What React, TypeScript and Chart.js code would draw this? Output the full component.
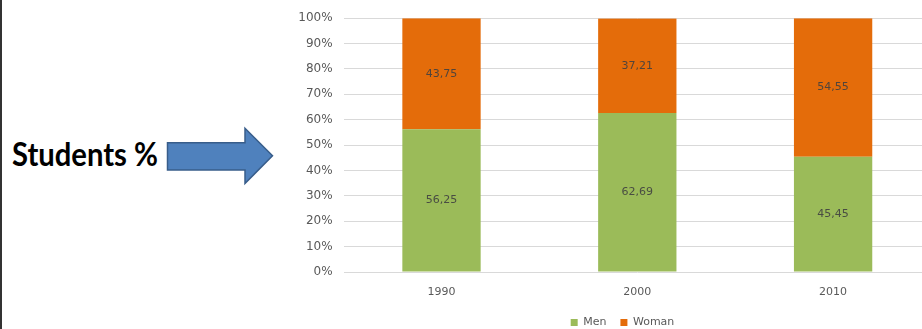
import React, { useEffect, useRef } from "react";
import { Chart, registerables } from "chart.js";

Chart.register(...registerables);

const categories = ["1990", "2000", "2010"];
const menValues = [56.25, 62.69, 45.45];
const womanValues = [43.75, 37.21, 54.55];
const seriesNames = ["Men", "Woman"];
const yMin = 0;
const yMax = 100;
const yStep = 10;
const sideLabel = "Students %";

const GREEN = "#9BBB59";
const ORANGE = "#E46C0A";
const FONT = "'DejaVu Sans', sans-serif";

const dataLabelPlugin = {
  id: "segmentLabels",
  afterDatasetsDraw(chart: any) {
    const ctx = chart.ctx;
    ctx.save();
    ctx.font = `11px ${FONT}`;
    ctx.fillStyle = "rgba(64,64,64,0.9)";
    ctx.textAlign = "center";
    ctx.textBaseline = "middle";
    chart.data.datasets.forEach((ds: any, di: number) => {
      const meta = chart.getDatasetMeta(di);
      meta.data.forEach((el: any, i: number) => {
        const v = ds.data[i];
        const txt = v.toFixed(2).replace(".", ",");
        ctx.fillText(txt, el.x, (el.y + el.base) / 2);
      });
    });
    ctx.restore();
  },
};

// shift the legend so that it sits centred where the reference has it
const legendShiftPlugin = {
  id: "legendShift",
  afterLayout(chart: any) {
    const lg = chart.legend;
    if (!lg) return;
    lg.left += 17;
    lg.right += 17;
  },
};

function StackedChart() {
  const ref = useRef<HTMLCanvasElement | null>(null);
  useEffect(() => {
    if (!ref.current) return;
    const chart = new Chart(ref.current, {
      type: "bar",
      data: {
        labels: categories,
        datasets: [
          {
            label: seriesNames[0],
            data: menValues,
            backgroundColor: GREEN,
            barPercentage: 0.4,
            categoryPercentage: 1,
          },
          {
            label: seriesNames[1],
            data: womanValues,
            backgroundColor: ORANGE,
            barPercentage: 0.4,
            categoryPercentage: 1,
          },
        ],
      },
      options: {
        animation: false,
        responsive: false,
        maintainAspectRatio: false,
        layout: { padding: { top: 17, left: 0, right: 34, bottom: 0 } },
        plugins: {
          tooltip: { enabled: false },
          legend: {
            position: "bottom",
            labels: {
              boxWidth: 7,
              boxHeight: 7,
              padding: 14,
              color: "#595959",
              font: { family: FONT, size: 11 },
            },
          },
        },
        scales: {
          x: {
            stacked: true,
            grid: { display: false, drawTicks: false },
            border: { display: false },
            ticks: {
              color: "#595959",
              font: { family: FONT, size: 11 },
              padding: 14,
            },
            afterFit: (s: any) => {
              s.height = 31;
            },
          },
          y: {
            stacked: true,
            min: yMin,
            max: yMax,
            grid: { color: "#D9D9D9", drawTicks: false, lineWidth: 1 },
            border: { display: false },
            ticks: {
              stepSize: yStep,
              color: "#595959",
              font: { family: FONT, size: 12 },
              padding: 11,
              callback: (v: any) => `${v}%`,
            },
            afterFit: (s: any) => {
              s.width = 63.6;
            },
          },
        },
      },
      plugins: [dataLabelPlugin, legendShiftPlugin],
    });
    return () => chart.destroy();
  }, []);
  return (
    <canvas
      ref={ref}
      width={685}
      height={338}
      style={{ position: "absolute", left: 280, top: 0, width: 685, height: 338 }}
    />
  );
}

export default function App() {
  return (
    <div
      style={{
        position: "fixed",
        left: 0,
        top: 0,
        width: 922,
        height: 329,
        overflow: "hidden",
        background: "#fff",
      }}
    >
      <div style={{ position: "absolute", left: 0, top: 0, width: 1.5, height: 329, background: "#333" }} />
      <svg width={300} height={329} style={{ position: "absolute", left: 0, top: 0 }}>
        <text
          x={12}
          y={166}
          textLength={146}
          lengthAdjust="spacingAndGlyphs"
          style={{ font: "bold 32px Lato, 'Open Sans', sans-serif" }}
          fill="#000"
        >
          {sideLabel}
        </text>
        <polygon
          points="167.5,142.7 245,142.7 245,128.3 272.5,155.7 245,183.5 245,170 167.5,170"
          fill="#4F81BD"
          stroke="#385D8A"
          strokeWidth={1.5}
        />
      </svg>
      <StackedChart />
    </div>
  );
}
